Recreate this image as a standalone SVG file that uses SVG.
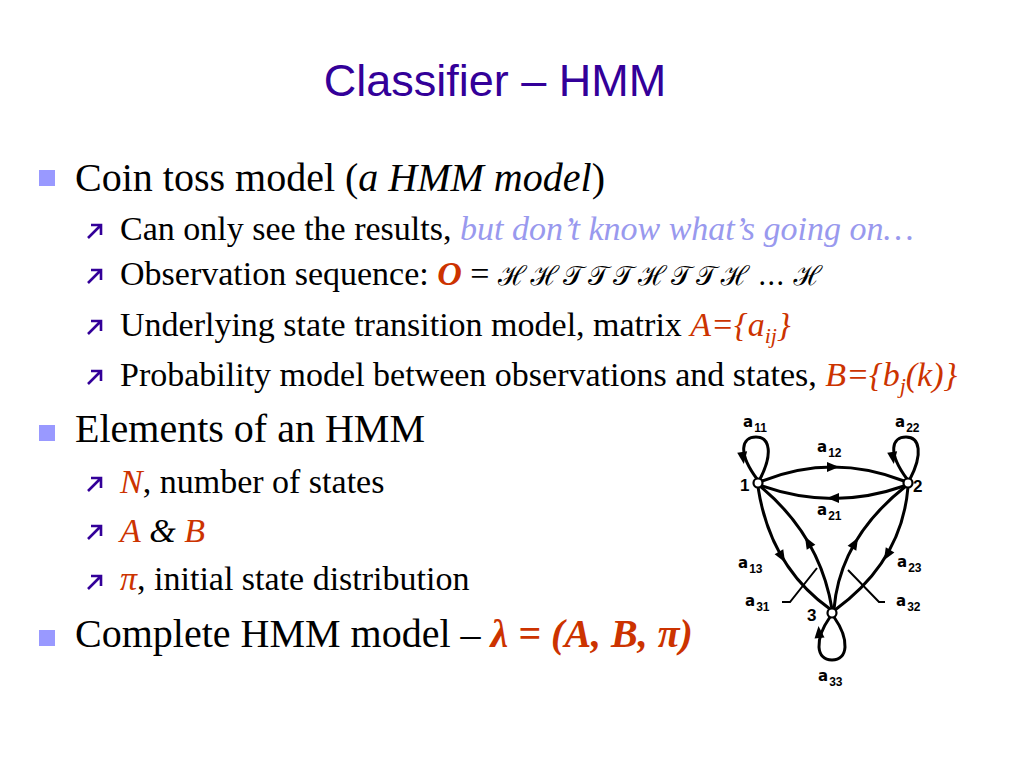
<svg xmlns="http://www.w3.org/2000/svg" xmlns:xlink="http://www.w3.org/1999/xlink" width="1024" height="768" viewBox="0 0 1024 768">
<style>
.title{font-family:"Liberation Sans",Arial,sans-serif;font-size:45px;fill:#330099}
.l1{font-family:"Liberation Serif","Times New Roman",serif;font-size:40px;fill:#000}
.l2{font-family:"Liberation Serif","Times New Roman",serif;font-size:34px;fill:#000}
.it{font-style:italic}
.or{fill:#cc3300}
.lt{fill:#9999ee}
.scr{font-family:"DejaVu Serif","Noto Sans",serif;font-style:normal}
.sq{fill:#9999ff}
.ar{fill:none;stroke:#330099;stroke-width:2.6}
.edge{fill:none;stroke:#000;stroke-width:3}
.lead{fill:none;stroke:#000;stroke-width:2}
.node{fill:#fff;stroke:#000;stroke-width:2.2}
.lab{font-family:"DejaVu Sans",sans-serif;font-size:15px;font-weight:bold;fill:#000}
.num{font-family:"Liberation Sans",Arial,sans-serif;font-size:17px;font-weight:bold;fill:#000}
.sub{font-family:"Liberation Sans",Arial,sans-serif;font-size:12px}
</style>
<defs>
<path id="ah" d="M6,0 L-6,-5 L-6,5 Z" fill="#000"/>
<rect id="sqb" width="16" height="16" class="sq"/>
<path id="arb" d="M88,238 L101,225 M91,225 H101 V235" class="ar"/>
</defs>
<rect width="1024" height="768" fill="#fff"/>
<text class="title" x="495" y="96" text-anchor="middle">Classifier – HMM</text>

<g id="bullets">
<use xlink:href="#sqb" x="39" y="170"/>
<use xlink:href="#arb"/>
<use xlink:href="#arb" y="45"/>
<use xlink:href="#arb" y="96"/>
<use xlink:href="#arb" y="146"/>
<use xlink:href="#sqb" x="39" y="425"/>
<use xlink:href="#arb" y="253"/>
<use xlink:href="#arb" y="301"/>
<use xlink:href="#arb" y="351"/>
<use xlink:href="#sqb" x="39" y="630"/>
</g>

<g id="text">
<text class="l1" x="75" y="191">Coin toss model (<tspan class="it">a HMM model</tspan>)</text>
<text class="l2" x="120" y="240">Can only see the results, <tspan class="it lt">but don’t know what’s going on…</tspan></text>
<text class="l2" x="120" y="285">Observation sequence: <tspan class="it or" font-weight="bold">O</tspan> = <tspan class="scr" font-size="27" letter-spacing="4">ℋℋ𝒯𝒯𝒯ℋ𝒯𝒯</tspan><tspan class="scr" font-size="27">ℋ … ℋ</tspan></text>
<text class="l2" x="120" y="336">Underlying state transition model, matrix <tspan class="it or">A={a<tspan font-size="22" dy="7">ij</tspan><tspan dy="-7">}</tspan></tspan></text>
<text class="l2" x="120" y="386">Probability model between observations and states, <tspan class="it or">B={b<tspan font-size="22" dy="7">j</tspan><tspan dy="-7">(k)}</tspan></tspan></text>
<text class="l1" x="75" y="442">Elements of an HMM</text>
<text class="l2" x="120" y="493"><tspan class="it or">N</tspan>, number of states</text>
<text class="l2" x="120" y="542"><tspan class="it or">A</tspan> <tspan class="it">&amp;</tspan> <tspan class="it or">B</tspan></text>
<text class="l2" x="120" y="590"><tspan class="it or">π</tspan>, initial state distribution</text>
<text class="l1" x="75" y="647">Complete HMM model – <tspan class="it or" font-weight="bold">λ = (A, B, π)</tspan></text>
</g>

<g id="connectors">
<path class="edge" d="M762,481 Q833,453 904,481"/>
<path class="edge" d="M762,486 Q833,511 904,486"/>
<path class="edge" d="M758,487 Q770,566 830,609"/>
<path class="edge" d="M832,609 Q820,536 760,486"/>
<path class="edge" d="M834,609 Q840,538 906,486"/>
<path class="edge" d="M908,487 Q902,561 835,610"/>
<path class="edge" d="M757,479 C737,452 742,437 756,437 C770,437 773,454 760,479"/>
<path class="edge" d="M907,479 C887,452 892,437 906,437 C920,437 923,454 910,479"/>
<path class="edge" d="M834,617 C850,640 848,660 832,660 C816,660 814,640 830,617"/>
<use xlink:href="#ah" transform="translate(833,467)"/>
<use xlink:href="#ah" transform="translate(833,498) rotate(180)"/>
<use xlink:href="#ah" transform="translate(782,557) rotate(59.5)"/>
<use xlink:href="#ah" transform="translate(808,542) rotate(-120.3)"/>
<use xlink:href="#ah" transform="translate(855,543) rotate(-59.7)"/>
<use xlink:href="#ah" transform="translate(887,555) rotate(120.7)"/>
<use xlink:href="#ah" transform="translate(743,458) rotate(82)"/>
<use xlink:href="#ah" transform="translate(893,458) rotate(82)"/>
<use xlink:href="#ah" transform="translate(819,632) rotate(-95)"/>
<path class="lead" d="M782,602 H790 L817,568"/>
<path class="lead" d="M885,602 H879 L848,570"/>
</g>

<g id="node1"><circle class="node" cx="758" cy="483" r="4.5"/><text class="num" x="740" y="491">1</text></g>
<g id="node2"><circle class="node" cx="908" cy="483" r="4.5"/><text class="num" x="913" y="492">2</text></g>
<g id="node3"><circle class="node" cx="832" cy="613" r="4.5"/><text class="num" x="807" y="621">3</text></g>

<g id="labels">
<text class="lab" x="743" y="427">a<tspan class="sub" dx="1" dy="5">11</tspan></text>
<text class="lab" x="895" y="427">a<tspan class="sub" dx="1" dy="5">22</tspan></text>
<text class="lab" x="817" y="452">a<tspan class="sub" dx="1" dy="5">12</tspan></text>
<text class="lab" x="817" y="515">a<tspan class="sub" dx="1" dy="5">21</tspan></text>
<text class="lab" x="738" y="568">a<tspan class="sub" dx="1" dy="5">13</tspan></text>
<text class="lab" x="897" y="567">a<tspan class="sub" dx="1" dy="5">23</tspan></text>
<text class="lab" x="745" y="606">a<tspan class="sub" dx="1" dy="5">31</tspan></text>
<text class="lab" x="896" y="606">a<tspan class="sub" dx="1" dy="5">32</tspan></text>
<text class="lab" x="818" y="681">a<tspan class="sub" dx="1" dy="5">33</tspan></text>
</g>
</svg>
